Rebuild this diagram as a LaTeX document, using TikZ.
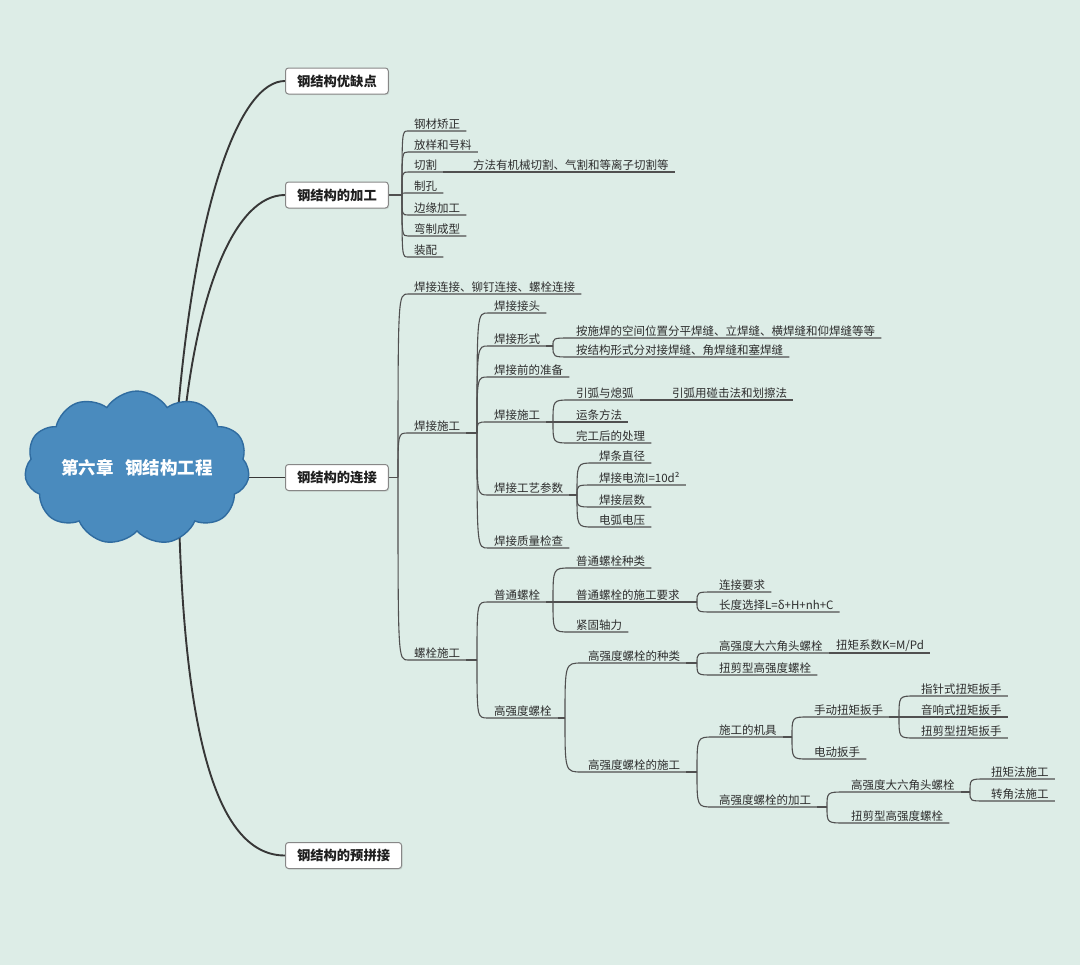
\documentclass[tikz,border=0pt]{standalone}
\usepackage{fontspec}
\setmainfont{Noto Sans CJK SC}
\usetikzlibrary{shapes.symbols,calc,shadows}
\definecolor{bgc}{RGB}{221,237,231}
\definecolor{txt}{RGB}{45,45,45}
\definecolor{lnc}{RGB}{80,80,80}
\definecolor{mlc}{RGB}{55,55,55}
\definecolor{cloudfill}{RGB}{74,139,190}
\definecolor{clouddraw}{RGB}{48,108,160}
\definecolor{boxdraw}{RGB}{135,135,135}
\pgfdeclarelayer{back}
\pgfsetlayers{back,main}
\tikzset{
  leaf/.style={anchor=south west, inner xsep=6bp, inner ysep=1.6bp, text=txt,
    font=\fontsize{11.5bp}{13bp}\selectfont},
  ln/.style={draw=lnc, line width=1.1bp},
  mainln/.style={draw=mlc, line width=1.9bp},
  bcurve/.style={to path={.. controls (\tikztostart |- \tikztotarget) and (\tikztostart |- \tikztotarget) .. (\tikztotarget)}},
  mainbox/.style={anchor=west, draw=boxdraw, line width=1bp, fill=white, rounded corners=3bp,
    minimum height=26bp, inner xsep=11.5bp, text=black!88,
    font=\fontsize{13.3bp}{15bp}\selectfont\bfseries,
    drop shadow={opacity=0.18, shadow xshift=1bp, shadow yshift=-1.2bp}},
}
\newcommand\lk[2]{\draw[ln] (#1) to[bcurve] (#2.south west) -- (#2.south east);}
\newcommand\cont[2]{\draw[ln] (#1.south east) -- (#2.south west) -- (#2.south east);}
\begin{document}
\begin{tikzpicture}[x=1bp,y=-1bp]
\useasboundingbox (0,0) rectangle (1080,965);
\begin{pgfonlayer}{back}
\fill[bgc] (0,0) rectangle (1080,965);
\end{pgfonlayer}

% root
\node[cloud, cloud puffs=11, cloud puff arc=115, aspect=1.7, fill=cloudfill, draw=clouddraw,
  line width=1.4bp, minimum width=222bp, minimum height=134bp, inner sep=0pt,
  text=white, font=\fontsize{17.5bp}{20bp}\selectfont\bfseries] (root) at (137,468)
  {第六章\hspace{0.65em}钢结构工程\hspace{12bp}};

% main branches
\node[mainbox] (m1) at (285,81) {钢结构优缺点};
\node[mainbox] (m2) at (285,195) {钢结构的加工};
\node[mainbox] (m3) at (285,477.5) {钢结构的连接};
\node[mainbox] (m4) at (285,855.5) {钢结构的预拼接};

% forks
\coordinate (fA) at (402,195);
\coordinate (fB) at (398,477.5);
\coordinate (fB2) at (477,433);
\coordinate (fB3) at (477,660);
\coordinate (fC2) at (553,346);
\coordinate (fC4) at (553,422);
\coordinate (fC5) at (577,495);
\coordinate (fD1) at (553,602);
\coordinate (fD12) at (697,602);
\coordinate (fD2) at (565,718);
\coordinate (fD21) at (697,663);
\coordinate (fD22) at (697,772);
\coordinate (fD221) at (792,737);
\coordinate (fD2211) at (899,717);
\coordinate (fD222) at (827,807);
\coordinate (fD2221) at (970,792);

% 加工
\node[leaf] (a1) at (408,131) {钢材矫正};
\node[leaf] (a2) at (408,152) {放样和号料};
\node[leaf] (a3) at (408,172) {切割};
\node[leaf] (a3c) at (467,172) {方法有机械切割、气割和等离子切割等};
\node[leaf] (a4) at (408,193) {制孔};
\node[leaf] (a5) at (408,215) {边缘加工};
\node[leaf] (a6) at (408,236) {弯制成型};
\node[leaf] (a7) at (408,257) {装配};

% 连接
\node[leaf] (b1) at (408,294) {焊接连接、铆钉连接、螺栓连接};
\node[leaf] (b2) at (408,433) {焊接施工};
\node[leaf] (b3) at (408,660) {螺栓施工};

\node[leaf] (c1) at (488,313) {焊接接头};
\node[leaf] (c2) at (488,346) {焊接形式};
\node[leaf] (c21) at (570,338) {按施焊的空间位置分平焊缝、立焊缝、横焊缝和仰焊缝等等};
\node[leaf] (c22) at (570,357) {按结构形式分对接焊缝、角焊缝和塞焊缝};
\node[leaf] (c3) at (488,377) {焊接前的准备};
\node[leaf] (c4) at (488,422) {焊接施工};
\node[leaf] (c41) at (570,400) {引弧与熄弧};
\node[leaf] (c41c) at (666,400) {引弧用碰击法和划擦法};
\node[leaf] (c42) at (570,422) {运条方法};
\node[leaf] (c43) at (570,443) {完工后的处理};
\node[leaf] (c5) at (488,495) {焊接工艺参数};
\node[leaf] (c51) at (593,463) {焊条直径};
\node[leaf] (c52) at (593,485) {焊接电流I=10d²};
\node[leaf] (c53) at (593,507) {焊接层数};
\node[leaf] (c54) at (593,527) {电弧电压};
\node[leaf] (c6) at (488,548) {焊接质量检查};

\node[leaf] (d1) at (488,602) {普通螺栓};
\node[leaf] (d11) at (570,568) {普通螺栓种类};
\node[leaf] (d12) at (570,602) {普通螺栓的施工要求};
\node[leaf] (d121) at (713,592) {连接要求};
\node[leaf] (d122) at (713,612) {长度选择L=δ+H+nh+C};
\node[leaf] (d13) at (570,632) {紧固轴力};
\node[leaf] (d2) at (488,718) {高强度螺栓};
\node[leaf] (d21) at (582,663) {高强度螺栓的种类};
\node[leaf] (d211) at (713,653) {高强度大六角头螺栓};
\node[leaf] (d211c) at (830,653) {扭矩系数K=M/Pd};
\node[leaf] (d212) at (713,675) {扭剪型高强度螺栓};
\node[leaf] (d22) at (582,772) {高强度螺栓的施工};
\node[leaf] (d221) at (713,737) {施工的机具};
\node[leaf] (d2211) at (808,717) {手动扭矩扳手};
\node[leaf] (e1) at (915,696) {指针式扭矩扳手};
\node[leaf] (e2) at (915,717) {音响式扭矩扳手};
\node[leaf] (e3) at (915,738) {扭剪型扭矩扳手};
\node[leaf] (d2212) at (808,759) {电动扳手};
\node[leaf] (d222) at (713,807) {高强度螺栓的加工};
\node[leaf] (d2221) at (845,792) {高强度大六角头螺栓};
\node[leaf] (f1) at (985,779) {扭矩法施工};
\node[leaf] (f2) at (985,801) {转角法施工};
\node[leaf] (d2222) at (845,823) {扭剪型高强度螺栓};

\begin{pgfonlayer}{back}
% root connectors
\draw[mainln] ($(root.center)+(40,-45)$) .. controls (195,200) and (240,81) .. (m1.west);
\draw[mainln] ($(root.center)+(47,-45)$) .. controls (198,290) and (235,195) .. (m2.west);
\draw[mainln] (m3.west) -- ++(-70,0);
\draw[mainln] ($(root.center)+(42,50)$) .. controls (185,740) and (218,855.5) .. (m4.west);

% 加工
\draw[ln] (m2.east) -- (fA);
\foreach \n in {a1,a2,a3,a4,a5,a6,a7} {\lk{fA}{\n}}
\cont{a3}{a3c}

% 连接
\draw[ln] (m3.east) -- (fB);
\foreach \n in {b1,b2,b3} {\lk{fB}{\n}}
\draw[ln] (b2.south east) -- (fB2);
\draw[ln] (b3.south east) -- (fB3);
\foreach \n in {c1,c2,c3,c4,c5,c6} {\lk{fB2}{\n}}
\draw[ln] (c2.south east) -- (fC2);
\foreach \n in {c21,c22} {\lk{fC2}{\n}}
\draw[ln] (c4.south east) -- (fC4);
\foreach \n in {c41,c42,c43} {\lk{fC4}{\n}}
\cont{c41}{c41c}
\draw[ln] (c5.south east) -- (fC5);
\foreach \n in {c51,c52,c53,c54} {\lk{fC5}{\n}}

\foreach \n in {d1,d2} {\lk{fB3}{\n}}
\draw[ln] (d1.south east) -- (fD1);
\foreach \n in {d11,d12,d13} {\lk{fD1}{\n}}
\draw[ln] (d12.south east) -- (fD12);
\foreach \n in {d121,d122} {\lk{fD12}{\n}}
\draw[ln] (d2.south east) -- (fD2);
\foreach \n in {d21,d22} {\lk{fD2}{\n}}
\draw[ln] (d21.south east) -- (fD21);
\foreach \n in {d211,d212} {\lk{fD21}{\n}}
\cont{d211}{d211c}
\draw[ln] (d22.south east) -- (fD22);
\foreach \n in {d221,d222} {\lk{fD22}{\n}}
\draw[ln] (d221.south east) -- (fD221);
\foreach \n in {d2211,d2212} {\lk{fD221}{\n}}
\draw[ln] (d2211.south east) -- (fD2211);
\foreach \n in {e1,e2,e3} {\lk{fD2211}{\n}}
\draw[ln] (d222.south east) -- (fD222);
\foreach \n in {d2221,d2222} {\lk{fD222}{\n}}
\draw[ln] (d2221.south east) -- (fD2221);
\foreach \n in {f1,f2} {\lk{fD2221}{\n}}
\end{pgfonlayer}
\end{tikzpicture}
\end{document}
